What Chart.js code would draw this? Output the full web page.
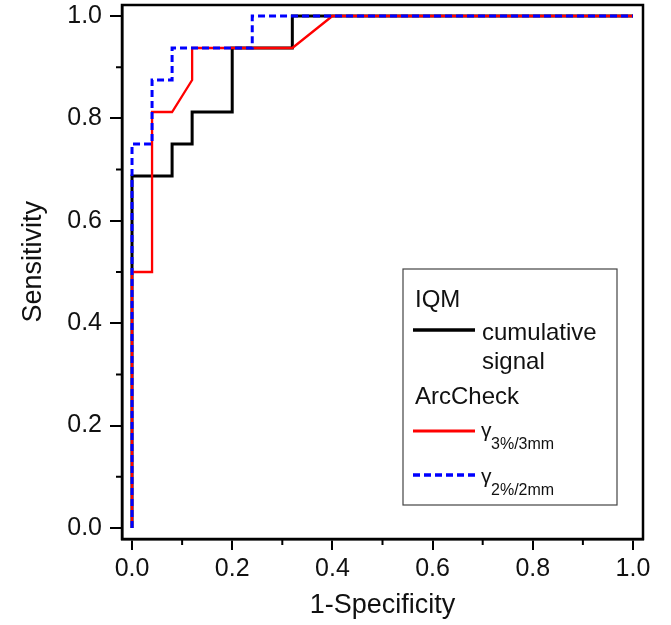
<!DOCTYPE html>
<html lang="en">
<head>
    <meta charset="UTF-8">
    <title>ROC curves: IQM vs ArcCheck</title>
    <script src="https://cdn.jsdelivr.net/npm/chart.js"></script>
    <style>
        body {
            margin: 0;
            background: #fff;
        }
        .wrap {
            width: 671px;
            height: 625px;
        }
    </style>
</head>
<body>
    <div class="wrap"><canvas id="rocChart" width="671" height="625"></canvas></div>

    <script>
        // tick values
        const majorTicks = [0, 0.2, 0.4, 0.6, 0.8, 1.0];
        const minorTicks = [0.1, 0.3, 0.5, 0.7, 0.9];

        // IQM cumulative signal
        const iqmFpr = [0, 0, 0.08, 0.08, 0.12, 0.12, 0.20, 0.20, 0.32, 0.32, 1.0];
        const iqmTpr = [0, 0.6875, 0.6875, 0.75, 0.75, 0.8125, 0.8125, 0.9375, 0.9375, 1.0, 1.0];

        // ArcCheck gamma 3%/3mm
        const g33Fpr = [0, 0, 0.04, 0.04, 0.08, 0.12, 0.12, 0.32, 0.40, 1.0];
        const g33Tpr = [0, 0.5, 0.5, 0.8125, 0.8125, 0.875, 0.9375, 0.9375, 1.0, 1.0];

        // ArcCheck gamma 2%/2mm
        const g22Fpr = [0, 0, 0.04, 0.04, 0.08, 0.08, 0.24, 0.24, 1.0];
        const g22Tpr = [0, 0.75, 0.75, 0.875, 0.875, 0.9375, 0.9375, 1.0, 1.0];

        const toPoints = (xs, ys) => xs.map((x, i) => ({ x: x, y: ys[i] }));

        const FONT = '"Liberation Sans", Arial, sans-serif';

        // full box around the plot, short minor ticks, y title
        const framePlugin = {
            id: 'frame',
            afterDraw(chart) {
                const { ctx, chartArea: a } = chart;
                ctx.save();
                ctx.strokeStyle = '#000';
                ctx.lineWidth = 2.5;
                ctx.strokeRect(a.left, a.top, a.right - a.left, a.bottom - a.top);

                ctx.lineWidth = 2;
                ctx.beginPath();
                minorTicks.forEach(v => {
                    const px = chart.scales.x.getPixelForValue(v);
                    ctx.moveTo(px, a.bottom);
                    ctx.lineTo(px, a.bottom + 6);
                    const py = chart.scales.y.getPixelForValue(v);
                    ctx.moveTo(a.left, py);
                    ctx.lineTo(a.left - 6, py);
                });
                ctx.stroke();

                // y axis title sits a bit above the middle in the original
                ctx.translate(a.left - 88, chart.scales.y.getPixelForValue(0.52));
                ctx.rotate(-Math.PI / 2);
                ctx.fillStyle = '#111';
                ctx.font = '27px ' + FONT;
                ctx.textAlign = 'center';
                ctx.textBaseline = 'middle';
                ctx.fillText('Sensitivity', 0, 0);
                ctx.restore();
            }
        };

        // legend box with group headings and gamma subscripts
        const legendPlugin = {
            id: 'rocLegend',
            afterDraw(chart) {
                const { ctx, chartArea: a } = chart;
                const bx = a.left + 281, by = a.top + 264;
                const sets = chart.data.datasets;
                ctx.save();
                ctx.fillStyle = '#fff';
                ctx.fillRect(bx, by, 214, 236);
                ctx.strokeStyle = '#444';
                ctx.lineWidth = 1.2;
                ctx.strokeRect(bx, by, 214, 236);

                ctx.fillStyle = '#111';
                ctx.textBaseline = 'alphabetic';
                ctx.font = '24px ' + FONT;
                ctx.fillText('IQM', bx + 12, by + 38);
                ctx.fillText('cumulative', bx + 79, by + 71);
                ctx.fillText('signal', bx + 79, by + 100);
                ctx.fillText('ArcCheck', bx + 12, by + 135);

                const sample = (ds, y) => {
                    ctx.beginPath();
                    ctx.strokeStyle = ds.borderColor;
                    ctx.lineWidth = ds.borderWidth + 0.5;
                    ctx.setLineDash(ds.borderDash || []);
                    ctx.moveTo(bx + 10, y);
                    ctx.lineTo(bx + 72, y);
                    ctx.stroke();
                    ctx.setLineDash([]);
                };
                sample(sets[0], by + 61);
                sample(sets[1], by + 162);
                sample(sets[2], by + 206);

                const gamma = (sub, y) => {
                    ctx.font = '21px ' + FONT;
                    ctx.fillText('\u03B3', bx + 78, y);
                    ctx.font = '16px ' + FONT;
                    ctx.fillText(sub, bx + 88, y + 12);
                };
                gamma(sets[1].label, by + 168);
                gamma(sets[2].label, by + 214);
                ctx.restore();
            }
        };

        const axisTicks = scale => {
            scale.ticks = majorTicks.map(v => ({ value: v }));
        };

        new Chart(document.getElementById('rocChart'), {
            type: 'line',
            data: {
                datasets: [
                    {
                        label: 'cumulative signal',
                        data: toPoints(iqmFpr, iqmTpr),
                        borderColor: '#000000',
                        borderWidth: 3,
                        order: 3
                    },
                    {
                        label: '3%/3mm',
                        data: toPoints(g33Fpr, g33Tpr),
                        borderColor: '#ff0000',
                        borderWidth: 2.3,
                        order: 2
                    },
                    {
                        label: '2%/2mm',
                        data: toPoints(g22Fpr, g22Tpr),
                        borderColor: '#0000ff',
                        borderWidth: 3,
                        borderDash: [7, 4],
                        order: 1
                    }
                ]
            },
            options: {
                responsive: false,
                animation: false,
                elements: {
                    point: { radius: 0 },
                    line: { tension: 0, fill: false }
                },
                layout: {
                    padding: { top: 5, right: 28, left: 0, bottom: 0 }
                },
                plugins: {
                    legend: { display: false },
                    tooltip: { enabled: false }
                },
                scales: {
                    x: {
                        type: 'linear',
                        min: -0.02,
                        max: 1.02,
                        afterBuildTicks: axisTicks,
                        afterFit(scale) {
                            scale.height = 86;
                            scale.paddingLeft = 0;
                            scale.paddingRight = 0;
                        },
                        grid: {
                            display: true,
                            drawOnChartArea: false,
                            drawTicks: true,
                            tickLength: 11,
                            color: '#000',
                            lineWidth: 2
                        },
                        border: { display: true, color: '#000', width: 2.5 },
                        ticks: {
                            autoSkip: false,
                            maxRotation: 0,
                            padding: 4,
                            color: '#111',
                            font: { family: FONT, size: 25 },
                            callback: v => v.toFixed(1)
                        },
                        title: {
                            display: true,
                            text: '1-Specificity',
                            color: '#111',
                            font: { family: FONT, size: 27 },
                            padding: { top: 0, bottom: 3 }
                        }
                    },
                    y: {
                        type: 'linear',
                        min: -0.0215,
                        max: 1.0215,
                        afterBuildTicks: axisTicks,
                        afterFit(scale) {
                            scale.width = 122;
                            scale.paddingTop = 0;
                            scale.paddingBottom = 0;
                        },
                        grid: {
                            display: true,
                            drawOnChartArea: false,
                            drawTicks: true,
                            tickLength: 12,
                            color: '#000',
                            lineWidth: 2
                        },
                        border: { display: true, color: '#000', width: 2.5 },
                        ticks: {
                            autoSkip: false,
                            padding: 8,
                            color: '#111',
                            font: { family: FONT, size: 25 },
                            callback: v => v.toFixed(1)
                        },
                        title: { display: false }
                    }
                }
            },
            plugins: [framePlugin, legendPlugin]
        });
    </script>
</body>
</html>
